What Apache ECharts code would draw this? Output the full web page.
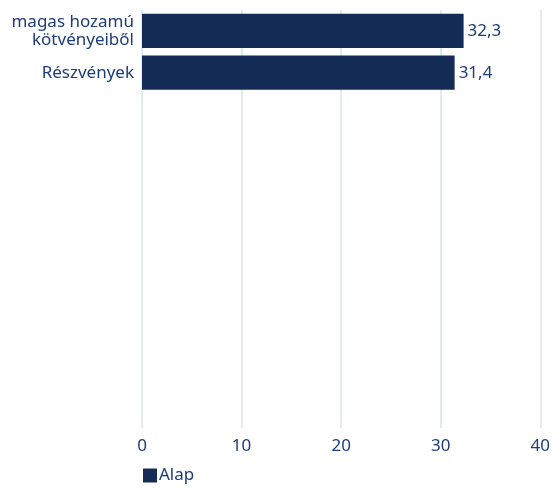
<!DOCTYPE html>
<html><head><meta charset="utf-8">
<script src="https://cdn.jsdelivr.net/npm/echarts@6/dist/echarts.min.js"></script>
<style>html,body{margin:0;padding:0;background:#fff}#c{width:553px;height:491px}</style>
</head><body><div id="c"></div>
<script>
var categories = ['magas hozamú\nkötvényeiből', 'Részvények', ' ', '  ', '   ', '    ', '     ', '      ', '       ', '        '];
var values = [32.3, 31.4, null, null, null, null, null, null, null, null];
var seriesName = 'Alap';
var xTicks = [0, 10, 20, 30, 40];

var textColor = '#1c3c7a';
var chart = echarts.init(document.getElementById('c'));
chart.setOption({
  animation: false,
  textStyle: { fontFamily: 'Noto Sans' },
  grid: { left: 142, right: 12, top: 10, bottom: 63, containLabel: false },
  legend: {
    data: [seriesName], left: 138, bottom: 2, icon: 'rect', itemWidth: 14, itemHeight: 14, itemGap: 4,
    textStyle: { color: textColor, fontSize: 17, fontFamily: 'Noto Sans', padding: [0, 0, 0, -3] }
  },
  xAxis: {
    type: 'value', min: xTicks[0], max: xTicks[xTicks.length - 1], interval: 10,
    axisLine: { show: false }, axisTick: { show: false },
    axisLabel: { color: textColor, fontSize: 17, margin: 10 },
    splitLine: { show: true, lineStyle: { color: '#d3e5ee', width: 1.5 } }
  },
  yAxis: {
    type: 'category', data: categories, inverse: true,
    axisLine: { show: false }, axisTick: { show: false },
    axisLabel: { color: textColor, fontSize: 17, margin: 8, lineHeight: 18, align: 'right' },
    splitLine: { show: false }
  },
  series: [{
    name: seriesName, type: 'bar', data: values, barCategoryGap: '18%',
    itemStyle: { color: '#142c55' },
    label: { show: true, position: 'right', color: textColor, fontSize: 17, distance: 4,
      formatter: function (p) { return p.value == null ? '' : String(p.value).replace('.', ','); } }
  }]
});
</script></body></html>
